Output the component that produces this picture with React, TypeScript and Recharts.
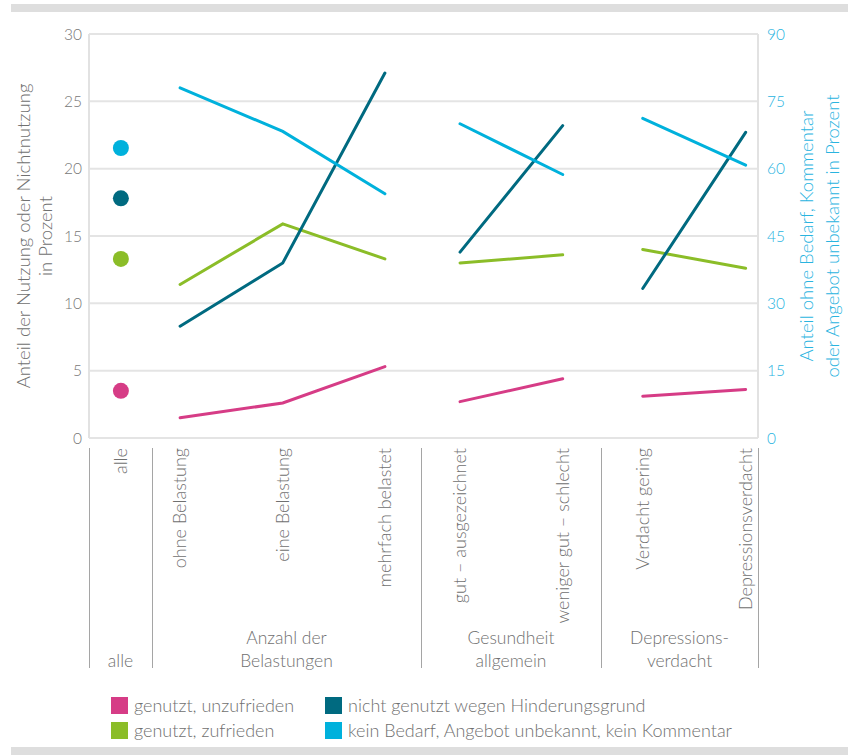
import { ComposedChart, Line, Scatter, XAxis, YAxis, CartesianGrid, Legend } from "recharts";

const categories = [
  "alle",
  "ohne Belastung",
  "eine Belastung",
  "mehrfach belastet",
  "gut – ausgezeichnet",
  "weniger gut – schlecht",
  "Verdacht gering",
  "Depressionsverdacht",
];
const groupOf = [0, 1, 1, 1, 2, 2, 3, 3];
const groupLabels = [["alle"], ["Anzahl der", "Belastungen"], ["Gesundheit", "allgemein"], ["Depressions-", "verdacht"]];

const seriesNames = [
  "genutzt, unzufrieden",
  "genutzt, zufrieden",
  "nicht genutzt wegen Hinderungsgrund",
  "kein Bedarf, Angebot unbekannt, kein Kommentar",
];
const genutztUnzufrieden = [3.5, 1.5, 2.6, 5.3, 2.7, 4.4, 3.1, 3.6];
const genutztZufrieden = [13.3, 11.4, 15.9, 13.3, 13.0, 13.6, 14.0, 12.6];
const nichtGenutzt = [17.8, 8.3, 13.0, 27.1, 13.8, 23.2, 11.1, 22.7];
// right axis (0-90)
const keinBedarf = [64.6, 78.0, 68.3, 54.4, 70.0, 58.7, 71.2, 60.8];

const leftTicks = [0, 5, 10, 15, 20, 25, 30];
const rightTicks = [0, 15, 30, 45, 60, 75, 90];

// layout: x slots on a 0..26 scale
const catX = [1.24, 3.54, 7.53, 11.5, 14.42, 18.41, 21.52, 25.52];
const sepX = [0, 2.45, 12.9, 19.9, 26];
const groupMid = groupLabels.map((_, g) => (sepX[g] + sepX[g + 1]) / 2);

const COLORS = ["#d63c86", "#8bbd28", "#006a80", "#00b1dc"];
const GRAY = "#707070";
const BLUE = "#2ab4df";
const FONT = "Lato, sans-serif";
const WEIGHT = 300;

const keys = ["u", "z", "n", "k"];
const values = [genutztUnzufrieden, genutztZufrieden, nichtGenutzt, keinBedarf];

// line rows, with an empty row between groups so the lines break
const rows: any[] = [];
for (let i = 1; i < categories.length; i++) {
  if (i > 1 && groupOf[i] !== groupOf[i - 1]) {
    rows.push({ x: sepX[groupOf[i]], u: null, z: null, n: null, k: null });
  }
  rows.push({ x: catX[i], u: values[0][i], z: values[1][i], n: values[2][i], k: values[3][i] });
}

const xTicks = [...sepX, ...catX, ...groupMid];

function XTick(props: any) {
  const { x, y, payload } = props;
  const v = payload.value;
  const ci = catX.indexOf(v);
  if (ci >= 0) {
    return (
      <text transform={`rotate(-90, ${x}, ${y + 10})`} x={x} y={y + 10} dy="0.35em" textAnchor="end" fill={GRAY} fontSize={18} fontWeight={WEIGHT} fontFamily={FONT}>
        {categories[ci]}
      </text>
    );
  }
  const si = sepX.indexOf(v);
  if (si >= 0) {
    const lx = Math.round(x) + 0.5;
    return <line x1={lx} x2={lx} y1={y + 10} y2={y + 230} stroke="#a5a5a5" strokeWidth={1} />;
  }
  const gi = groupMid.indexOf(v);
  if (gi >= 0) {
    const lines = groupLabels[gi];
    return (
      <text x={x} textAnchor="middle" fill={GRAY} fontSize={17.5} fontWeight={WEIGHT} fontFamily={FONT}>
        {lines.map((t, j) => (
          <tspan key={j} x={x} y={y + 229 - (lines.length - 1 - j) * 23}>
            {t}
          </tspan>
        ))}
      </text>
    );
  }
  return null;
}

function AxisTitle(props: any) {
  const { viewBox, lines, offsets, color } = props;
  const cy = viewBox.y + viewBox.height / 2;
  return (
    <g>
      {lines.map((t: string, j: number) => {
        const cx = viewBox.x + offsets[j];
        return (
          <text key={j} transform={`rotate(-90, ${cx}, ${cy})`} x={cx} y={cy} dy="0.35em" textAnchor="middle" fill={color} fontSize={18.5} fontWeight={WEIGHT} fontFamily={FONT}>
            {t}
          </text>
        );
      })}
    </g>
  );
}

function LegendBox() {
  return (
    <div style={{ position: "relative", width: 700, height: 50, fontFamily: FONT, fontSize: 18, fontWeight: WEIGHT, color: GRAY }}>
      {seriesNames.map((name, i) => (
        <div key={i} style={{ position: "absolute", left: 11 + Math.floor(i / 2) * 214, top: 9 + (i % 2) * 25, display: "flex", alignItems: "center", whiteSpace: "nowrap" }}>
          <span style={{ width: 17, height: 17, background: COLORS[i], marginRight: 6, display: "inline-block" }} />
          <span style={{ lineHeight: "17px" }}>{name}</span>
        </div>
      ))}
    </div>
  );
}

export default function App() {
  return (
    <div style={{ position: "absolute", left: 0, top: 0, width: 848, height: 755, background: "#fff", fontFamily: FONT }}>
      <div style={{ position: "absolute", left: 11, top: 4, width: 837, height: 8, background: "#dedede" }} />
      <div style={{ position: "absolute", left: 11, top: 747, width: 837, height: 8, background: "#dedede" }} />
      <div style={{ position: "absolute", left: 0, top: 0 }}>
        <ComposedChart width={848} height={755} data={rows} margin={{ top: 34, right: 30, left: 29, bottom: 87 }}>
          <CartesianGrid yAxisId="left" vertical={false} stroke="#e4e4e4" strokeWidth={2} />
          <XAxis
            dataKey="x"
            type="number"
            domain={[0, 26]}
            ticks={xTicks}
            interval={0}
            tick={<XTick />}
            axisLine={false}
            tickLine={false}
            tickSize={0}
            tickMargin={0}
            height={230}
          />
          <YAxis
            yAxisId="left"
            domain={[0, 30]}
            ticks={leftTicks}
            width={60}
            axisLine={{ stroke: "#e2e2e2", strokeWidth: 2 }}
            tickLine={false}
            tickSize={0}
            tickMargin={7}
            tick={{ fill: "#777", fontSize: 15.5, fontWeight: WEIGHT, fontFamily: FONT }}
            label={<AxisTitle lines={["Anteil der Nutzung oder Nichtnutzung", "in Prozent"]} offsets={[-5, 17]} color={GRAY} />}
          />
          <YAxis
            yAxisId="right"
            orientation="right"
            domain={[0, 90]}
            ticks={rightTicks}
            width={60}
            axisLine={{ stroke: "#e2e2e2", strokeWidth: 2 }}
            tickLine={false}
            tickSize={0}
            tickMargin={9}
            tick={{ fill: BLUE, fontSize: 15.5, fontWeight: WEIGHT, fontFamily: FONT }}
            label={<AxisTitle lines={["Anteil ohne Bedarf, Kommentar", "oder Angebot unbekannt in Prozent"]} offsets={[49, 75]} color={BLUE} />}
          />
          {keys.map((k, i) => (
            <Line
              key={k}
              yAxisId={i === 3 ? "right" : "left"}
              dataKey={k}
              name={seriesNames[i]}
              type="linear"
              stroke={COLORS[i]}
              strokeWidth={3}
              strokeLinecap="round"
              dot={false}
              activeDot={false}
              connectNulls={false}
              isAnimationActive={false}
            />
          ))}
          {keys.map((k, i) => (
            <Scatter
              key={"s" + k}
              yAxisId={i === 3 ? "right" : "left"}
              data={[{ x: catX[0], y: values[i][0] }]}
              dataKey="y"
              legendType="none"
              isAnimationActive={false}
              shape={(p: any) => <circle cx={p.cx} cy={p.cy} r={8} fill={COLORS[i]} />}
            />
          ))}
          <Legend
            layout="horizontal"
            verticalAlign="middle"
            align="center"
            wrapperStyle={{ left: 100, top: 688, width: 700 }}
            content={<LegendBox />}
          />
        </ComposedChart>
      </div>
    </div>
  );
}
